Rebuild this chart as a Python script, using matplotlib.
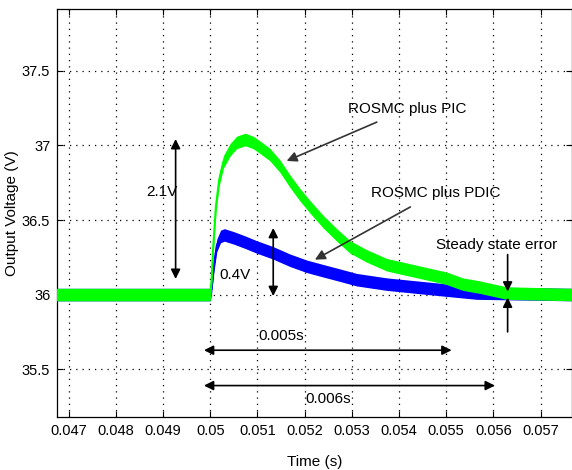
import numpy as np
import matplotlib
matplotlib.use("Agg")
import matplotlib.pyplot as plt

plt.rcParams['font.family'] = ['Liberation Sans Narrow', 'Liberation Sans', 'DejaVu Sans']

# ROSMC plus PIC (green)
t_pic = [0.0467, 0.05, 0.05003, 0.050064, 0.05012, 0.05019, 0.05028, 0.05042,
         0.05056, 0.05074, 0.05091, 0.05109, 0.05126, 0.05148, 0.05169, 0.0519,
         0.05211, 0.05239, 0.05268, 0.05296, 0.05331, 0.05374, 0.0543, 0.0550,
         0.05535, 0.05571, 0.05628, 0.0577]
v_pic = [36.0, 36.0, 36.10, 36.32, 36.59, 36.77, 36.89, 36.97,
         37.02, 37.04, 37.02, 36.98, 36.94, 36.86, 36.76, 36.67,
         36.59, 36.49, 36.40, 36.32, 36.26, 36.20, 36.16, 36.11,
         36.07, 36.05, 36.01, 36.0]

# ROSMC plus PDIC (blue)
t_pdic = [0.0467, 0.05, 0.05003, 0.05008, 0.05014, 0.05022, 0.0503, 0.0505,
          0.05075, 0.05098, 0.05133, 0.05169, 0.05204, 0.05239, 0.05275, 0.0531,
          0.05374, 0.0550, 0.05565, 0.0577]
v_pdic = [36.0, 36.0, 36.05, 36.2, 36.33, 36.39, 36.40, 36.38,
          36.35, 36.32, 36.28, 36.23, 36.19, 36.16, 36.13, 36.10,
          36.07, 36.03, 36.01, 36.0]

x_ticks = [0.047, 0.048, 0.049, 0.05, 0.051, 0.052, 0.053, 0.054, 0.055, 0.056, 0.057]
y_ticks = [35.5, 36, 36.5, 37, 37.5]

GREEN = '#00ff00'
BLUE = '#0000ff'
BAND = 0.042  # half height of the noisy band

fig = plt.figure(figsize=(5.72, 4.70), dpi=100)
ax = fig.add_axes([0.1, 0.113, 0.9, 0.867])

tb = np.array(t_pdic)
vb = np.array(v_pdic)
ax.fill_between(tb, vb - BAND, vb + BAND, color=BLUE, lw=0, zorder=2)
ax.plot(tb, vb, color=BLUE, lw=1.5, zorder=2)

tg = np.array(t_pic)
vg = np.array(v_pic)
ax.fill_between(tg, vg - BAND, vg + BAND, color=GREEN, lw=0, zorder=3)
ax.plot(tg, vg, color=GREEN, lw=1.5, zorder=3)

ax.set_xlim(0.046758, 0.057665)
ax.set_ylim(35.18, 37.912)
ax.set_xticks(x_ticks)
ax.set_xticklabels(['%g' % x for x in x_ticks])
ax.set_yticks(y_ticks)
ax.set_yticklabels(['%g' % y for y in y_ticks])
ax.tick_params(direction='in', length=4, width=0.8, top=True, right=True,
               labelsize=10.5, pad=5, colors='black')
ax.grid(True, color='black', linestyle=(0, (1, 4)), linewidth=0.9)
for s in ax.spines.values():
    s.set_linewidth(0.9)

ax.set_xlabel('Time (s)', fontsize=11, labelpad=12)
ax.set_ylabel('Output Voltage (V)', fontsize=11, labelpad=2)

arr = dict(arrowstyle='<|-|>', color='black', lw=1.2, mutation_scale=14,
           shrinkA=0, shrinkB=0)
one = dict(arrowstyle='-|>', color='black', lw=1.2, mutation_scale=14,
           shrinkA=0, shrinkB=0)

# 2.1V overshoot
ax.annotate('', xy=(0.049267, 37.043), xytext=(0.049267, 36.105), arrowprops=arr, zorder=5)
ax.text(0.04897, 36.69, '2.1V', fontsize=11, ha='center', va='center')

# 0.4V overshoot
ax.annotate('', xy=(0.051335, 36.447), xytext=(0.051335, 35.99), arrowprops=arr, zorder=5)
ax.text(0.050523, 36.13, '0.4V', fontsize=11, ha='center', va='center')

# curve labels
ax.annotate('ROSMC plus PIC', xy=(0.051619, 36.896), xytext=(0.052917, 37.244),
            fontsize=11, ha='left', va='center',
            arrowprops=dict(arrowstyle='-|>', color='#333333', lw=1.2,
                            mutation_scale=15, shrinkA=6, shrinkB=0), zorder=5)
ax.annotate('ROSMC plus PDIC', xy=(0.052218, 36.234), xytext=(0.053398, 36.68),
            fontsize=11, ha='left', va='center',
            arrowprops=dict(arrowstyle='-|>', color='#333333', lw=1.2,
                            mutation_scale=15, shrinkA=6, shrinkB=0), zorder=5)

# steady state error
ax.text(0.054784, 36.335, 'Steady state error', fontsize=11, ha='left', va='center')
ax.annotate('', xy=(0.056301, 36.02), xytext=(0.056301, 36.268), arrowprops=one, zorder=5)
ax.annotate('', xy=(0.056301, 35.98), xytext=(0.056301, 35.75), arrowprops=one, zorder=5)

# settling times
ax.annotate('', xy=(0.049866, 35.627), xytext=(0.055114, 35.627), arrowprops=arr, zorder=5)
ax.text(0.051508, 35.72, '0.005s', fontsize=11, ha='center', va='center')
ax.annotate('', xy=(0.049866, 35.39), xytext=(0.056032, 35.39), arrowprops=arr, zorder=5)
ax.text(0.0525, 35.297, '0.006s', fontsize=11, ha='center', va='center')

fig.savefig('out.png', dpi=100)
